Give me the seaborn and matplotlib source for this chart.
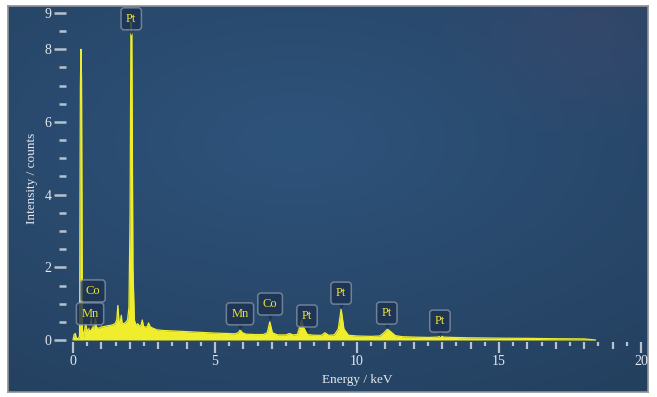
import numpy as np
import pandas as pd
import matplotlib
matplotlib.use("Agg")
import matplotlib.pyplot as plt
import matplotlib.transforms as mtransforms
from matplotlib.colors import to_rgb
import seaborn as sns

# EDS spectrum (energy in keV, intensity in counts)
energy_kev = [
    0.00, 0.04, 0.08, 0.12, 0.18, 0.23, 0.26, 0.28, 0.30, 0.33, 0.38, 0.44,
    0.50, 0.56, 0.61, 0.64, 0.67, 0.72, 0.76, 0.79, 0.83, 0.90, 1.00, 1.10,
    1.20, 1.30, 1.40, 1.48, 1.54, 1.58, 1.62, 1.66, 1.70, 1.73, 1.78, 1.85,
    1.92, 1.97, 2.01, 2.04, 2.07, 2.11, 2.16, 2.22, 2.28, 2.34, 2.40, 2.44,
    2.48, 2.55, 2.62, 2.66, 2.72, 2.80, 2.95, 3.20, 3.50, 4.00, 4.50, 5.00,
    5.40, 5.70, 5.82, 5.89, 5.96, 6.10, 6.40, 6.70, 6.84, 6.93, 7.02, 7.20,
    7.50, 7.62, 7.75, 7.90, 7.98, 8.05, 8.12, 8.25, 8.50, 8.75, 8.87, 9.00,
    9.20, 9.34, 9.44, 9.54, 9.70, 10.0, 10.5, 10.8, 10.95, 11.07, 11.2, 11.35,
    11.6, 12.0, 12.5, 12.85, 12.95, 13.05, 13.4, 14.0, 15.0, 16.0, 17.0, 18.0,
    18.4,
]
intensity = [
    0.00, 0.15, 0.18, 0.05, 0.03, 0.10, 7.00, 8.00, 7.20, 0.30, 0.08, 0.45,
    0.25, 0.30, 0.40, 0.60, 0.35, 0.30, 0.45, 0.60, 0.35, 0.32, 0.36, 0.37,
    0.39, 0.40, 0.42, 0.45, 0.55, 0.95, 0.50, 0.45, 0.68, 0.45, 0.45, 0.48,
    0.55, 0.90, 3.50, 8.75, 8.50, 2.00, 0.55, 0.40, 0.45, 0.38, 0.42, 0.55,
    0.38, 0.35, 0.38, 0.47, 0.36, 0.33, 0.28, 0.26, 0.25, 0.23, 0.21, 0.19,
    0.18, 0.17, 0.20, 0.28, 0.20, 0.16, 0.15, 0.15, 0.20, 0.50, 0.20, 0.14,
    0.14, 0.18, 0.14, 0.15, 0.35, 0.55, 0.35, 0.15, 0.13, 0.13, 0.20, 0.13,
    0.14, 0.30, 0.85, 0.30, 0.13, 0.11, 0.10, 0.11, 0.20, 0.30, 0.22, 0.12,
    0.09, 0.08, 0.07, 0.08, 0.11, 0.08, 0.07, 0.06, 0.05, 0.045, 0.035, 0.03,
    0.00,
]

# element labels: text, peak energy, label height
peak_names = ["Pt", "Co", "Mn", "Mn", "Co", "Pt", "Pt", "Pt", "Pt"]
peak_energy = [2.05, 0.70, 0.60, 5.88, 6.94, 8.24, 9.44, 11.05, 12.92]
label_height = [8.84, 1.35, 0.72, 0.72, 0.99, 0.66, 1.29, 0.74, 0.52]

y_major = [0, 2, 4, 6, 8, 9]
x_major = [0, 5, 10, 15, 20]

spec = pd.DataFrame({"energy": energy_kev, "counts": intensity})

sns.set_theme(style="white")
plt.rcParams["font.family"] = ["Liberation Serif", "DejaVu Serif"]

W, H = 657, 397
fig = plt.figure(figsize=(W / 100, H / 100), dpi=100, facecolor="white")

# blue panel with a soft gradient
px0, py0, px1, py1 = 8, 6, 648, 392
bg = fig.add_axes([px0 / W, 1 - py1 / H, (px1 - px0) / W, (py1 - py0) / H])
gx, gy = np.meshgrid(np.linspace(0, 1, 200), np.linspace(0, 1, 120))
d = np.clip(np.hypot((gx - 0.45) / 0.9, (gy - 0.35) / 0.8), 0, 1)
c_in, c_out = np.array(to_rgb("#2e537b")), np.array(to_rgb("#24405f"))
img = c_in * (1 - d[..., None]) + c_out * d[..., None]
tint = np.clip(1 - np.hypot((gx - 0.92) / 0.25, (gy - 0.05) / 0.3), 0, 1)[..., None]
img = img * (1 - 0.35 * tint) + np.array(to_rgb("#4a4a70")) * 0.35 * tint
bg.imshow(img, aspect="auto", extent=[0, 1, 1, 0], origin="upper")
bg.set_xlim(0, 1)
bg.set_ylim(1, 0)
bg.set_xticks([])
bg.set_yticks([])
for s in bg.spines.values():
    s.set_color("#8f9296")
    s.set_linewidth(1.2)

# main axes, placed so that 0 keV -> 73 px, 20 keV -> 641 px, 0 -> 340 px, 9 -> 13 px
xl, xr = -0.25, 20.2
yb, yt = -0.055, 9.15
sx = (641 - 73) / 20
sy = (340 - 13) / 9
left_px = 73 + xl * sx
bottom_px = 340 - yb * sy
ax = fig.add_axes([left_px / W, 1 - bottom_px / H, (xr - xl) * sx / W, (yt - yb) * sy / H])
ax.set_facecolor("none")
ax.set_xlim(xl, xr)
ax.set_ylim(yb, yt)

yellow = "#f0ee2c"
ax.fill_between(spec["energy"], 0, spec["counts"], color=yellow, lw=0, zorder=2)
sns.lineplot(data=spec, x="energy", y="counts", ax=ax, color=yellow, lw=0.9,
             sort=False, zorder=3)

for s in ax.spines.values():
    s.set_visible(False)

tick_c = "#b8c2cf"
lab_c = "#e4e8ee"
ax.set_yticks(y_major)
ax.set_yticks([v for v in np.arange(0.5, 9, 0.5) if v not in y_major], minor=True)
ax.set_xticks(x_major)
ax.set_xticks([v for v in np.arange(0.5, 20, 0.5) if v % 5 != 0], minor=True)
ax.tick_params(axis="y", which="major", length=8.5, width=1.8, color=tick_c,
               labelcolor=lab_c, labelsize=10, pad=2, left=True)
ax.tick_params(axis="y", which="minor", length=5, width=1.8, color=tick_c, left=True)
ax.tick_params(axis="x", which="major", length=8, width=1.6, color=tick_c,
               labelcolor=lab_c, labelsize=10, pad=1.5, bottom=True)
ax.tick_params(axis="x", which="minor", length=5, width=1.6, color=tick_c, bottom=True)
for loc, t in zip(ax.xaxis.get_minorticklocs(), ax.xaxis.get_minor_ticks()):
    if abs(loc - round(loc)) > 1e-6:
        t.tick1line.set_markersize(3)

ax.set_xlabel("Energy / keV", color=lab_c, fontsize=9.5)
ax.set_ylabel("Intensity / counts", color=lab_c, fontsize=9.5)
ax.xaxis.set_label_coords((357 - left_px) / ((xr - xl) * sx), (bottom_px - 380) / ((yt - yb) * sy))
ax.yaxis.set_label_coords((32 - left_px) / ((xr - xl) * sx), (bottom_px - 178) / ((yt - yb) * sy))
ax.xaxis.label.set_va("center")
ax.yaxis.label.set_va("center")

# element tags
box_fc = "#1c3150"
box_ec = "#8090a6"
ptr = mtransforms.offset_copy(ax.transData, fig=fig, y=-13, units="dots")
for name, ex, hy in zip(peak_names, peak_energy, label_height):
    ax.text(ex, hy, name, ha="center", va="center", color="#e8e23a", fontsize=9,
            zorder=5,
            bbox=dict(boxstyle="round,pad=0.4,rounding_size=0.25", fc=box_fc,
                      ec=box_ec, lw=1.1, alpha=0.82))
    ax.plot([ex], [hy], marker="v", ms=5, color=box_fc, alpha=0.85,
            transform=ptr, zorder=4, mec="none")

fig.savefig("out.png", dpi=100, facecolor="white")
